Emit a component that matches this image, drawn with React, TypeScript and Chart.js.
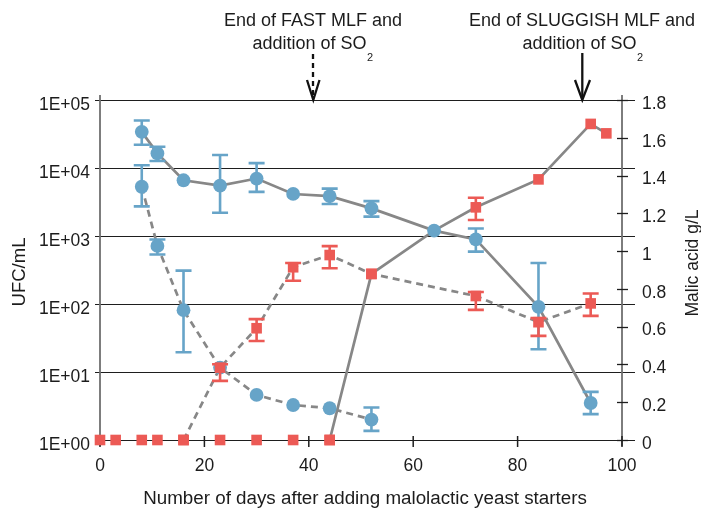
import React, { useEffect, useRef } from "react";
import { Chart, registerables } from "chart.js";

Chart.register(...registerables);

// ---------- data ----------
const xTicks = [0, 20, 40, 60, 80, 100];
const ufcTicks = [1, 10, 100, 1000, 10000, 100000];
const ufcTickLabels = ["1E+00", "1E+01", "1E+02", "1E+03", "1E+04", "1E+05"];
const malicTicks = [0, 0.2, 0.4, 0.6, 0.8, 1, 1.2, 1.4, 1.6, 1.8];
const malicTickLabels = ["0", "0.2", "0.4", "0.6", "0.8", "1", "1.2", "1.4", "1.6", "1.8"];

// not-detected bacteria (plotted at 1E+00)
const notDetectedDays = [0, 3, 8, 11, 16, 23, 30, 37, 44];
const notDetectedUfc = [1, 1, 1, 1, 1, 1, 1, 1, 1];

// yeast, sluggish MLF (solid line, circles)
const sluggishYeastDays = [8, 11, 16, 23, 30, 37, 44, 52, 64, 72, 84, 94];
const sluggishYeastUfc = [34000, 16400, 6600, 5500, 7000, 4150, 3860, 2550, 1200, 890, 91, 3.5];
const sluggishYeastLow = [22000, 12700, null, 2200, 4450, null, 2960, 1930, null, 590, 21.6, 2.4];
const sluggishYeastHigh = [50000, 20500, null, 15500, 11800, null, 4980, 3260, null, 1290, 400, 5.1];

// yeast, fast MLF (dashed line, circles)
const fastYeastDays = [8, 11, 16, 23, 30, 37, 44, 52];
const fastYeastUfc = [5300, 715, 81, 11.6, 4.6, 3.27, 2.93, 2.0];
const fastYeastLow = [2730, 535, 19.5, null, null, null, null, 1.36];
const fastYeastHigh = [11000, 890, 310, null, null, null, null, 3.0];

// bacteria, fast MLF (dashed line, squares)
const fastBactDays = [16, 23, 30, 37, 44, 52, 72, 84, 94];
const fastBactUfc = [1, 11.6, 44, 347, 525, 277, 131, 54, 102];
const fastBactLow = [null, 7.4, 28.6, 220, 335, null, 82, 34, 67];
const fastBactHigh = [null, 13, 60, 400, 710, null, 150, 62, 143];

// bacteria, sluggish MLF (solid line, squares)
const sluggishBactDays = [44, 52, 64, 72, 84, 94, 97];
const sluggishBactUfc = [1, 277, 1200, 2640, 6800, 44500, 32300];
const sluggishBactLow = [null, null, null, 1720, null, null, null];
const sluggishBactHigh = [null, null, null, 3650, null, null, null];
const sluggishBactMarked = [true, true, false, true, true, true, true];

// ---------- styles ----------
const BLUE = "#67a4c8";
const RED = "#ec5a55";
const GRAY = "#878787";
const INK = "#1c1c1c";
const FONT = '"Liberation Sans", Arial, Helvetica, sans-serif';

const pts = (xs: number[], ys: number[]) => xs.map((d, i) => ({ x: d, y: ys[i] }));

const errorBarPlugin = {
  id: "errorBars",
  beforeDatasetDraw(chart: any, args: any) {
    const ds = chart.data.datasets[args.index];
    if (!ds.errLow) return;
    const { ctx, scales } = chart;
    const ys = scales.y;
    const xs = scales.x;
    ctx.save();
    ctx.strokeStyle = ds.errColor;
    ctx.lineWidth = 2.6;
    ds.data.forEach((p: any, i: number) => {
      const lo = ds.errLow[i];
      const hi = ds.errHigh[i];
      if (lo == null || hi == null) return;
      const px = xs.getPixelForValue(p.x);
      const pl = ys.getPixelForValue(lo);
      const ph = ys.getPixelForValue(hi);
      ctx.beginPath();
      ctx.moveTo(px, pl);
      ctx.lineTo(px, ph);
      ctx.moveTo(px - 8, pl);
      ctx.lineTo(px + 8, pl);
      ctx.moveTo(px - 8, ph);
      ctx.lineTo(px + 8, ph);
      ctx.stroke();
    });
    ctx.restore();
  },
};

function drawSubLine(ctx: CanvasRenderingContext2D, main: string, sub: string, cx: number, base: number) {
  ctx.font = `18px ${FONT}`;
  const w1 = ctx.measureText(main).width;
  ctx.font = `11px ${FONT}`;
  const w2 = ctx.measureText(sub).width;
  const start = cx - (w1 + 1 + w2) / 2;
  ctx.textAlign = "left";
  ctx.font = `18px ${FONT}`;
  ctx.fillText(main, start, base);
  ctx.font = `11px ${FONT}`;
  ctx.fillText(sub, start + w1 + 0.5, base + 12);
}

const decorPlugin = {
  id: "decor",
  beforeDatasetsDraw(chart: any) {
    const { ctx, scales } = chart;
    const { x, y, y2 } = scales;
    ctx.save();
    // horizontal grid lines (extend past both axes)
    ctx.strokeStyle = "#1e1e1e";
    ctx.lineWidth = 1.2;
    ufcTicks.forEach((v) => {
      const py = Math.round(y.getPixelForValue(v)) + 0.5;
      ctx.beginPath();
      ctx.moveTo(95, py);
      ctx.lineTo(635, py);
      ctx.stroke();
    });
    // vertical axis lines
    ctx.strokeStyle = "#6f6f6f";
    ctx.lineWidth = 1.8;
    [x.left, x.right].forEach((px: number) => {
      ctx.beginPath();
      ctx.moveTo(px, 95);
      ctx.lineTo(px, 446);
      ctx.stroke();
    });
    // right axis cross ticks
    ctx.strokeStyle = "#1e1e1e";
    ctx.lineWidth = 1.3;
    malicTicks.forEach((v) => {
      const py = Math.round(y2.getPixelForValue(v)) + 0.5;
      ctx.beginPath();
      ctx.moveTo(x.right - 5, py);
      ctx.lineTo(x.right + 6, py);
      ctx.stroke();
    });
    // x ticks
    ctx.lineWidth = 1.5;
    xTicks.forEach((v) => {
      const px = x.getPixelForValue(v);
      ctx.beginPath();
      ctx.moveTo(px, 436);
      ctx.lineTo(px, 447);
      ctx.stroke();
    });
    ctx.restore();
  },
  afterDraw(chart: any) {
    const { ctx } = chart;
    ctx.save();
    ctx.fillStyle = INK;
    ctx.strokeStyle = "#111";
    ctx.textBaseline = "alphabetic";

    // annotations
    ctx.textAlign = "center";
    ctx.font = `18px ${FONT}`;
    ctx.fillText("End of FAST MLF and", 313, 26);
    drawSubLine(ctx, "addition of SO", "2", 313, 48.7);
    ctx.textAlign = "center";
    ctx.font = `18px ${FONT}`;
    ctx.fillText("End of SLUGGISH MLF and", 582, 26);
    drawSubLine(ctx, "addition of SO", "2", 583, 48.7);

    // arrows
    ctx.lineWidth = 2.3;
    ctx.setLineDash([5, 4]);
    ctx.beginPath();
    ctx.moveTo(313, 54);
    ctx.lineTo(313, 97);
    ctx.stroke();
    ctx.setLineDash([]);
    ctx.beginPath();
    ctx.moveTo(307, 80);
    ctx.lineTo(313.3, 100);
    ctx.lineTo(319.5, 80);
    ctx.stroke();

    ctx.beginPath();
    ctx.moveTo(582.3, 53);
    ctx.lineTo(582.3, 99);
    ctx.stroke();
    ctx.beginPath();
    ctx.moveTo(575, 80);
    ctx.lineTo(582.3, 100);
    ctx.lineTo(590, 80);
    ctx.stroke();

    // axis titles
    ctx.textAlign = "center";
    ctx.font = `18.8px ${FONT}`;
    ctx.fillText("Number of days after adding malolactic yeast starters", 365, 504);

    ctx.save();
    ctx.translate(25, 272);
    ctx.rotate(-Math.PI / 2);
    ctx.font = `18.5px ${FONT}`;
    ctx.fillText("UFC/mL", 0, 0);
    ctx.restore();

    ctx.save();
    ctx.translate(698, 263);
    ctx.rotate(-Math.PI / 2);
    ctx.font = `17.5px ${FONT}`;
    ctx.fillText("Malic acid g/L", 0, 0);
    ctx.restore();

    ctx.restore();
  },
};

export default function App() {
  const ref = useRef<HTMLCanvasElement | null>(null);

  useEffect(() => {
    if (!ref.current) return;
    const lineBase = {
      type: "line" as const,
      borderColor: GRAY,
      borderWidth: 2.7,
      pointRadius: 0,
      fill: false,
      tension: 0,
      order: 10,
      yAxisID: "y",
    };
    const markerBase = {
      type: "line" as const,
      showLine: false,
      pointBorderWidth: 0,
      clip: false,
      yAxisID: "y",
    };

    const chart = new Chart(ref.current, {
      type: "line",
      data: {
        datasets: [
          // lines
          { ...lineBase, label: "sluggish yeast line", data: pts(sluggishYeastDays, sluggishYeastUfc) },
          { ...lineBase, label: "fast yeast line", borderDash: [7, 5], data: pts(fastYeastDays, fastYeastUfc) },
          { ...lineBase, label: "fast bacteria line", borderDash: [7, 5], data: pts(fastBactDays, fastBactUfc) },
          { ...lineBase, label: "sluggish bacteria line", data: pts(sluggishBactDays, sluggishBactUfc) },
          // blue markers
          {
            ...markerBase,
            label: "sluggish yeast",
            data: pts(sluggishYeastDays, sluggishYeastUfc),
            pointStyle: "circle",
            pointRadius: 6.9,
            pointBackgroundColor: BLUE,
            order: 6,
            errLow: sluggishYeastLow,
            errHigh: sluggishYeastHigh,
            errColor: BLUE,
          } as any,
          {
            ...markerBase,
            label: "fast yeast",
            data: pts(fastYeastDays, fastYeastUfc),
            pointStyle: "circle",
            pointRadius: 6.9,
            pointBackgroundColor: BLUE,
            order: 5,
            errLow: fastYeastLow,
            errHigh: fastYeastHigh,
            errColor: BLUE,
          } as any,
          // red markers
          {
            ...markerBase,
            label: "not detected",
            data: pts(notDetectedDays, notDetectedUfc),
            pointStyle: "rect",
            pointRadius: 7.5,
            pointBackgroundColor: RED,
            order: 3,
          } as any,
          {
            ...markerBase,
            label: "fast bacteria",
            data: pts(fastBactDays, fastBactUfc),
            pointStyle: "rect",
            pointRadius: 7.5,
            pointBackgroundColor: RED,
            order: 2,
            errLow: fastBactLow,
            errHigh: fastBactHigh,
            errColor: RED,
          } as any,
          {
            ...markerBase,
            label: "sluggish bacteria",
            data: pts(sluggishBactDays, sluggishBactUfc),
            pointStyle: "rect",
            pointRadius: sluggishBactMarked.map((m) => (m ? 7.5 : 0)),
            pointBackgroundColor: RED,
            order: 1,
            errLow: sluggishBactLow,
            errHigh: sluggishBactHigh,
            errColor: RED,
          } as any,
        ],
      },
      options: {
        responsive: false,
        animation: false,
        events: [],
        layout: { padding: { top: 100, left: 0, right: 0, bottom: 0 } },
        plugins: { legend: { display: false }, tooltip: { enabled: false } },
        scales: {
          x: {
            type: "linear",
            min: 0,
            max: 100,
            afterBuildTicks: (s: any) => {
              s.ticks = xTicks.map((v) => ({ value: v }));
            },
            afterFit: (s: any) => {
              s.height = 69;
            },
            ticks: {
              padding: 16,
              autoSkip: false,
              maxRotation: 0,
              color: INK,
              font: { family: FONT, size: 17.5 },
              callback: (v: any) => String(v),
            },
            grid: { display: false, drawTicks: false },
            border: { display: false },
          },
          y: {
            type: "logarithmic",
            position: "left",
            min: 1,
            max: 100000,
            afterBuildTicks: (s: any) => {
              s.ticks = ufcTicks.map((v) => ({ value: v }));
            },
            afterFit: (s: any) => {
              s.width = 100;
            },
            ticks: {
              padding: 10,
              labelOffset: 5,
              autoSkip: false,
              color: INK,
              font: { family: FONT, size: 17.5 },
              callback: (v: any) => {
                const i = ufcTicks.findIndex((t) => Math.abs(Math.log10(t) - Math.log10(Number(v))) < 1e-6);
                return i >= 0 ? ufcTickLabels[i] : "";
              },
            },
            grid: { display: false, drawTicks: false },
            border: { display: false },
          },
          y2: {
            type: "linear",
            position: "right",
            min: 0,
            max: 1.8,
            afterBuildTicks: (s: any) => {
              s.ticks = malicTicks.map((v) => ({ value: v }));
            },
            afterFit: (s: any) => {
              s.width = 79;
            },
            ticks: {
              padding: 20,
              labelOffset: 4,
              autoSkip: false,
              color: INK,
              font: { family: FONT, size: 17.5 },
              callback: (v: any) => {
                const i = malicTicks.findIndex((t) => Math.abs(t - Number(v)) < 1e-6);
                return i >= 0 ? malicTickLabels[i] : "";
              },
            },
            grid: { display: false, drawTicks: false },
            border: { display: false },
          },
        },
      } as any,
      plugins: [decorPlugin, errorBarPlugin],
    });
    return () => chart.destroy();
  }, []);

  return (
    <div style={{ position: "fixed", left: 0, top: 0, width: 701, height: 509, background: "#fff" }}>
      <canvas ref={ref} width={701} height={509} style={{ display: "block" }} />
    </div>
  );
}
